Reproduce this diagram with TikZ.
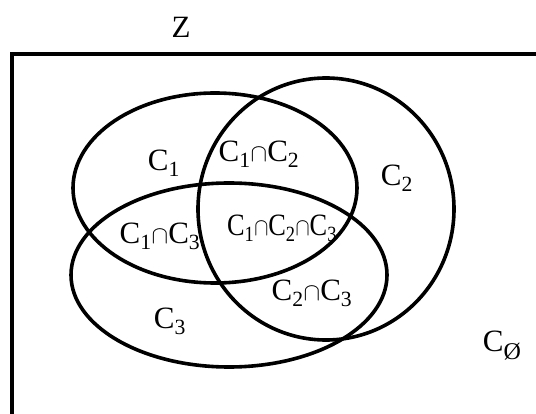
\documentclass[tikz,border=0pt]{standalone}
\usepackage{fontspec}
\setmainfont{Liberation Serif}
\begin{document}
\begin{tikzpicture}[
    x=1pt, y=-1pt,
    setline/.style={draw=black, line width=3.6pt},
    setlabel/.style={font=\fontsize{31}{35}\selectfont, inner sep=0pt}
]
\useasboundingbox (0,0) rectangle (536,414);

%% ---- Grundmenge Z (Rahmen, rechts und unten abgeschnitten) ----
\draw[line width=3.4pt] (536,54) -- (12,54) -- (12,414);
\node[setlabel] (lblZ) at (181,27) {Z};

%% ---- Mengen C1, C2, C3 ----
\draw[setline] (215,188) ellipse [x radius=142, y radius=95];
\draw[setline] (326,209) ellipse [x radius=128, y radius=131];
\draw[setline] (229,275) ellipse [x radius=158, y radius=92];

%% ---- Beschriftungen der Teilflaechen ----
\node[setlabel] (lblCa) at (164,163) {C\textsubscript{1}};
\node[setlabel] (lblCb) at (397,178) {C\textsubscript{2}};
\node[setlabel] (lblCc) at (170,321) {C\textsubscript{3}};
\node[setlabel] (lblCab) at (259,154) {C\textsubscript{1}$\cap$C\textsubscript{2}};
\node[setlabel] (lblCac) at (160,236) {C\textsubscript{1}$\cap$C\textsubscript{3}};
\node[setlabel] (lblCbc) at (312,293) {C\textsubscript{2}$\cap$C\textsubscript{3}};
\node[setlabel] (lblCabc) at (282,228)
    {\scalebox{0.85}[1]{C\textsubscript{1}$\cap$C\textsubscript{2}$\cap$C\textsubscript{3}}};

%% ---- Leere Teilmenge ----
\node[setlabel] (lblCnull) at (502,346)
    {C\raisebox{-8pt}{\fontsize{24}{26}\selectfont Ø}};

\end{tikzpicture}
\end{document}
